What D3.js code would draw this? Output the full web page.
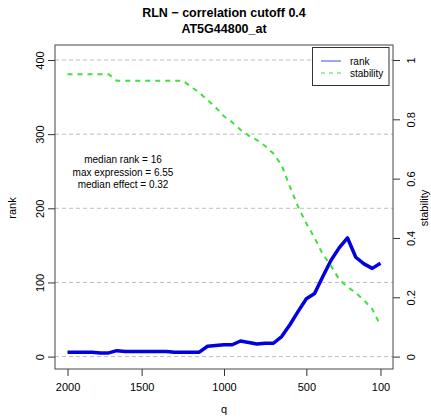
<!DOCTYPE html>
<html>
<head>
<meta charset="utf-8">
<script src="https://cdn.jsdelivr.net/npm/d3@7"></script>
<style>
  body { margin: 0; background: #fff; }
  text { font-family: "Liberation Sans", Arial, sans-serif; fill: #000; }
</style>
</head>
<body>
<div id="chart"></div>
<script>
// data, one value per q step (2000 down to 100)
const rank = [6, 6, 6, 6, 5, 5, 8, 7, 7, 7, 7, 7, 7, 6, 6, 6, 6, 14, 15, 16,
  16, 21, 19, 17, 18, 18, 27, 43, 61, 78, 85, 108, 130, 147, 160, 134, 125, 119, 126];
const stability = [0.952, 0.952, 0.952, 0.952, 0.952, 0.952, 0.93, 0.93, 0.93, 0.93,
  0.93, 0.93, 0.93, 0.93, 0.93, 0.91, 0.89, 0.865, 0.84, 0.81,
  0.79, 0.765, 0.745, 0.73, 0.71, 0.685, 0.645, 0.573, 0.505, 0.449,
  0.40, 0.345, 0.305, 0.26, 0.235, 0.215, 0.19, 0.16, 0.105];
const qTickIdx = [0, 9, 19, 29, 38];
const qTickLabels = ["2000", "1500", "1000", "500", "100"];
const rankTicks = [0, 100, 200, 300, 400];
const stabTicks = [0, 0.2, 0.4, 0.6, 0.8, 1];
const notes = ["median rank = 16", "max expression = 6.55", "median effect = 0.32"];

const W = 431, H = 418;
const box = { left: 55, right: 393, top: 45, bottom: 369 };

const svg = d3.select("#chart").append("svg")
  .attr("width", W).attr("height", H);

const x = d3.scaleLinear().domain([-1.52, 39.52]).range([box.left, box.right]);
const y = d3.scaleLinear().domain([0, 400]).range([356.6, 60]);
const y2 = d3.scaleLinear().domain([0, 1]).range([356.6, 60]);

// grid
svg.append("g").selectAll("line").data(rankTicks).join("line")
  .attr("x1", box.left).attr("x2", box.right)
  .attr("y1", d => y(d)).attr("y2", d => y(d))
  .attr("stroke", "#bdbdbd").attr("stroke-dasharray", "4,3");

// lines
const idx = d3.range(rank.length);
svg.append("path")
  .attr("d", d3.line().x(i => x(i)).y(i => y(rank[i]))(idx))
  .attr("fill", "none").attr("stroke", "#0000e0").attr("stroke-width", 3.5)
  .attr("stroke-linejoin", "round");
svg.append("path")
  .attr("d", d3.line().x(i => x(i)).y(i => y2(stability[i]))(idx))
  .attr("fill", "none").attr("stroke", "#3fe03f").attr("stroke-width", 2)
  .attr("stroke-dasharray", "5,5");

// axes
const gl = svg.append("g").attr("transform", `translate(${box.left},0)`)
  .call(d3.axisLeft(y).tickValues(rankTicks).tickSize(7));
gl.selectAll("text")
  .attr("x", 0).attr("y", 0).attr("text-anchor", "middle").attr("dy", "0.35em")
  .attr("transform", "translate(-15,0) rotate(-90)");
const gr = svg.append("g").attr("transform", `translate(${box.right},0)`)
  .call(d3.axisRight(y2).tickValues(stabTicks).tickSize(7).tickFormat(d3.format("")));
gr.selectAll("text")
  .attr("x", 0).attr("y", 0).attr("text-anchor", "middle").attr("dy", "0.35em")
  .attr("transform", "translate(18,0) rotate(-90)");
const gb = svg.append("g").attr("transform", `translate(0,${box.bottom})`)
  .call(d3.axisBottom(x).tickValues(qTickIdx).tickSize(7).tickPadding(5)
    .tickFormat((d, i) => qTickLabels[i]));
[gl, gr, gb].forEach(g => {
  g.select(".domain").remove();
  g.selectAll("line").attr("stroke", "#333");
  g.selectAll("text").attr("font-size", 11).attr("fill", "#222")
    .attr("font-family", "Liberation Sans, Arial, sans-serif");
});
gb.selectAll("text").attr("dy", "0.9em");

// box
svg.append("rect")
  .attr("x", box.left).attr("y", box.top)
  .attr("width", box.right - box.left).attr("height", box.bottom - box.top)
  .attr("fill", "none").attr("stroke", "#444").attr("stroke-width", 1);

// titles
svg.append("text").attr("x", 224).attr("y", 17).attr("text-anchor", "middle")
  .attr("font-size", 12.5).attr("font-weight", "bold").text("RLN \u2212 correlation cutoff 0.4");
svg.append("text").attr("x", 224).attr("y", 33).attr("text-anchor", "middle")
  .attr("font-size", 12.5).attr("font-weight", "bold").text("AT5G44800_at");
svg.append("text").attr("x", 224).attr("y", 413).attr("text-anchor", "middle")
  .attr("font-size", 11).text("q");
svg.append("text").attr("transform", `translate(16,208) rotate(-90)`)
  .attr("text-anchor", "middle").attr("font-size", 11).text("rank");
svg.append("text").attr("transform", `translate(428,208) rotate(-90)`)
  .attr("text-anchor", "middle").attr("font-size", 11).text("stability");

// notes
svg.append("g").selectAll("text").data(notes).join("text")
  .attr("x", 123).attr("y", (d, i) => 163 + i * 12.5)
  .attr("text-anchor", "middle").attr("font-size", 10).text(d => d);

// legend
const lg = svg.append("g");
lg.append("rect").attr("x", 312.5).attr("y", 47.5).attr("width", 76.5).attr("height", 38)
  .attr("fill", "#fff").attr("stroke", "#333");
const leg = [
  { name: "rank", color: "#0000e0", dash: null },
  { name: "stability", color: "#3fe03f", dash: "4,4" }
];
leg.forEach((d, i) => {
  const yy = 61 + i * 12;
  lg.append("line").attr("x1", 321).attr("x2", 341).attr("y1", yy).attr("y2", yy)
    .attr("stroke", d.color).attr("stroke-width", 1.2).attr("stroke-dasharray", d.dash)
    .attr("opacity", d.dash ? 1 : 0.6);
  lg.append("text").attr("x", 350).attr("y", yy).attr("dy", "0.35em")
    .attr("font-size", 10).text(d.name);
});
</script>
</body>
</html>
